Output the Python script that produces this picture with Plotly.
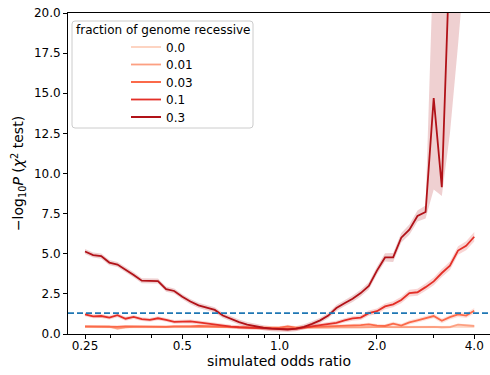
import plotly.graph_objects as go

# ---- data ----
odds_ratio = [0.25, 0.2649, 0.2806, 0.2973, 0.3150, 0.3337, 0.3536, 0.3746, 0.3969, 0.4204,
              0.4454, 0.4719, 0.5, 0.5297, 0.5612, 0.5946, 0.6300, 0.6674, 0.7071, 0.7492,
              0.7937, 0.8409, 0.8909, 0.9439, 1.0, 1.0595, 1.1225, 1.1892, 1.2599, 1.3348,
              1.4142, 1.4983, 1.5874, 1.6818, 1.7818, 1.8877, 2.0, 2.1189, 2.2449, 2.3784,
              2.5198, 2.6697, 2.8284, 2.9966, 3.1748, 3.3636, 3.5636, 3.7755, 4.0]

fractions = ["0.0", "0.01", "0.03", "0.1", "0.3"]

r00 = [0.44, 0.45, 0.44, 0.46, 0.45, 0.44, 0.45, 0.43, 0.44, 0.45, 0.46, 0.44, 0.45, 0.44, 0.43, 0.45,
       0.44, 0.45, 0.46, 0.44, 0.45, 0.43, 0.44, 0.45, 0.44, 0.46, 0.45, 0.44, 0.43, 0.45, 0.44, 0.46,
       0.45, 0.44, 0.45, 0.43, 0.44, 0.45, 0.44, 0.46, 0.45, 0.44, 0.45, 0.43, 0.44, 0.45, 0.44, 0.46, 0.45]
r01 = [0.45, 0.46, 0.47, 0.46, 0.33, 0.42, 0.44, 0.45, 0.44, 0.46, 0.45, 0.44, 0.45, 0.46, 0.45, 0.44,
       0.45, 0.46, 0.44, 0.45, 0.43, 0.42, 0.40, 0.38, 0.35, 0.36, 0.38, 0.40, 0.42, 0.41, 0.40, 0.42,
       0.41, 0.43, 0.42, 0.44, 0.42, 0.45, 0.43, 0.44, 0.42, 0.45, 0.43, 0.44, 0.42, 0.43, 0.58, 0.52, 0.50]
r03 = [0.47, 0.46, 0.48, 0.47, 0.45, 0.47, 0.46, 0.48, 0.47, 0.46, 0.45, 0.47, 0.46, 0.48, 0.50, 0.49,
       0.47, 0.46, 0.44, 0.42, 0.40, 0.38, 0.37, 0.36, 0.40, 0.48, 0.40, 0.42, 0.44, 0.45, 0.47, 0.46,
       0.50, 0.52, 0.55, 0.60, 0.52, 0.50, 0.65, 0.52, 0.72, 0.85, 0.98, 1.12, 0.82, 1.05, 1.22, 1.15, 1.45]
r10 = [1.22, 1.10, 1.12, 1.02, 1.17, 0.95, 1.06, 0.93, 0.88, 0.98, 0.88, 0.76, 0.77, 0.78, 0.72, 0.65,
       0.60, 0.52, 0.46, 0.42, 0.40, 0.37, 0.35, 0.34, 0.33, 0.30, 0.32, 0.38, 0.48, 0.55, 0.62, 0.70,
       0.85, 0.97, 1.02, 1.30, 1.42, 1.72, 1.85, 2.12, 2.55, 2.60, 2.92, 3.28, 3.80, 4.25, 5.20, 5.50, 6.06]
r30 = [5.14, 4.92, 4.85, 4.45, 4.33, 4.02, 3.68, 3.32, 3.30, 3.30, 2.80, 2.68, 2.32, 2.02, 1.78, 1.66,
       1.50, 1.15, 0.92, 0.74, 0.58, 0.47, 0.39, 0.33, 0.29, 0.28, 0.33, 0.45, 0.63, 0.85, 1.15, 1.62,
       1.92, 2.20, 2.55, 3.00, 3.95, 4.77, 4.77, 6.00, 6.50, 7.35, 7.60, 14.70, 9.15, 24.0, 30.0, 36.0, 42.0]

err00 = [0.07] * 49
err01 = [0.08] * 49
err03 = [0.09] * 34 + [0.10, 0.10, 0.11, 0.11, 0.12, 0.12, 0.13, 0.13, 0.14, 0.14, 0.15, 0.15, 0.16, 0.16, 0.17]
err10 = [0.12] * 30 + [0.12, 0.13, 0.13, 0.14, 0.15, 0.16, 0.17, 0.18, 0.19, 0.20, 0.21, 0.22, 0.23,
                       0.24, 0.25, 0.26, 0.27, 0.28, 0.30]
err30_lo = [0.16] * 30 + [0.17, 0.18, 0.19, 0.20, 0.21, 0.22, 0.24, 0.26, 0.28, 0.30, 0.32, 0.34,
                          0.40, 5.70, 0.55, 11.5, 12.0, 12.0, 12.0]
err30_hi = [0.16] * 30 + [0.17, 0.18, 0.19, 0.20, 0.21, 0.22, 0.24, 0.26, 0.28, 0.30, 0.32, 0.34,
                          0.40, 9.30, 15.0, 16.0, 16.0, 16.0, 16.0]

series = [r00, r01, r03, r10, r30]
errs_lo = [err00, err01, err03, err10, err30_lo]
errs_hi = [err00, err01, err03, err10, err30_hi]
colors = ["#fdd4c2", "#fca082", "#fb6a4a", "#e32f27", "#b11218"]
threshold = 1.3
x_ticks = [0.25, 0.5, 1, 2, 4]
x_ticktext = ["0.25", "0.5", "1.0", "2.0", "4.0"]
x_minor = [0.3, 0.4, 0.6, 0.7, 0.8, 0.9, 3]
y_ticks = [0, 2.5, 5, 7.5, 10, 12.5, 15, 17.5, 20]


def rgba(h, a):
    h = h.lstrip("#")
    return "rgba(%d,%d,%d,%s)" % (int(h[0:2], 16), int(h[2:4], 16), int(h[4:6], 16), a)


W, H = 490, 375
L, R, T, B = 68, 0, 13, 41
pw, ph = W - L - R, H - T - B


def px(xp):
    return (xp - L) / pw


def py(yp):
    return (H - B - yp) / ph


legend_ids = ["legend", "legend2", "legend3", "legend4", "legend5"]
legend_centers = [47, 64.5, 82, 99.5, 117]

fig = go.Figure()
for name, ys, elo, ehi, col in zip(fractions, series, errs_lo, errs_hi, colors):
    lo = [v - e for v, e in zip(ys, elo)]
    hi = [v + e for v, e in zip(ys, ehi)]
    fig.add_trace(go.Scatter(x=odds_ratio, y=lo, mode="lines", line=dict(width=0),
                             showlegend=False, hoverinfo="skip"))
    fig.add_trace(go.Scatter(x=odds_ratio, y=hi, mode="lines", line=dict(width=0),
                             fill="tonexty", fillcolor=rgba(col, 0.2),
                             showlegend=False, hoverinfo="skip"))
for name, ys, col, lid in zip(fractions, series, colors, legend_ids):
    fig.add_trace(go.Scatter(x=odds_ratio, y=ys, mode="lines", name=name, legend=lid,
                             line=dict(color=col, width=1.8)))

fig.add_hline(y=threshold, line=dict(color="#1f77b4", width=1.8, dash="6px,3px"))

# legend frame (rounded)
x0, x1, y0, y1 = px(72), px(253), py(128), py(21)
rx, ry = 3 / pw, 3 / ph
path = (f"M{x0+rx},{y1} L{x1-rx},{y1} Q{x1},{y1} {x1},{y1-ry} L{x1},{y0+ry} Q{x1},{y0} {x1-rx},{y0} "
        f"L{x0+rx},{y0} Q{x0},{y0} {x0},{y0+ry} L{x0},{y1-ry} Q{x0},{y1} {x0+rx},{y1} Z")
fig.add_shape(type="path", path=path, xref="paper", yref="paper",
              fillcolor="rgba(255,255,255,0.8)", line=dict(color="#cccccc", width=1), layer="above")
fig.add_annotation(text="fraction of genome recessive", x=px(162.5), y=py(30), xref="paper", yref="paper",
                   showarrow=False, xanchor="center", yanchor="middle", font=dict(size=12, color="black"))

legend_layout = {}
for lid, yc in zip(legend_ids, legend_centers):
    legend_layout[lid] = dict(x=px(126), y=py(yc), xanchor="left", yanchor="middle",
                              bgcolor="rgba(0,0,0,0)", borderwidth=0, font=dict(size=12),
                              itemwidth=30)

fig.update_layout(
    width=W, height=H, margin=dict(l=L, r=R, t=T, b=B),
    paper_bgcolor="white", plot_bgcolor="white",
    font=dict(family="DejaVu Sans", size=12, color="black"),
    xaxis=dict(type="log", range=[-0.6547, 0.6508], tickvals=x_ticks, ticktext=x_ticktext,
               ticks="outside", ticklen=4, tickcolor="black", showline=True, linecolor="black",
               linewidth=1, mirror=True, showgrid=False, zeroline=False, ticklabelstandoff=-3,
               minor=dict(tickvals=x_minor, ticks="outside", ticklen=2.5, tickcolor="black", showgrid=False),
               title=dict(text="simulated odds ratio", standoff=2)),
    yaxis=dict(range=[0, 20], tickvals=y_ticks, tickformat=".1f", ticks="outside", ticklen=4,
               tickcolor="black", showline=True, linecolor="black", linewidth=1, showgrid=False,
               zeroline=False,
               title=dict(text="\u2212log<sub>10</sub><i>P</i> (<i>\u03c7</i><sup>2</sup> test)", standoff=6)),
    **legend_layout,
)

fig.write_html("out.html")
